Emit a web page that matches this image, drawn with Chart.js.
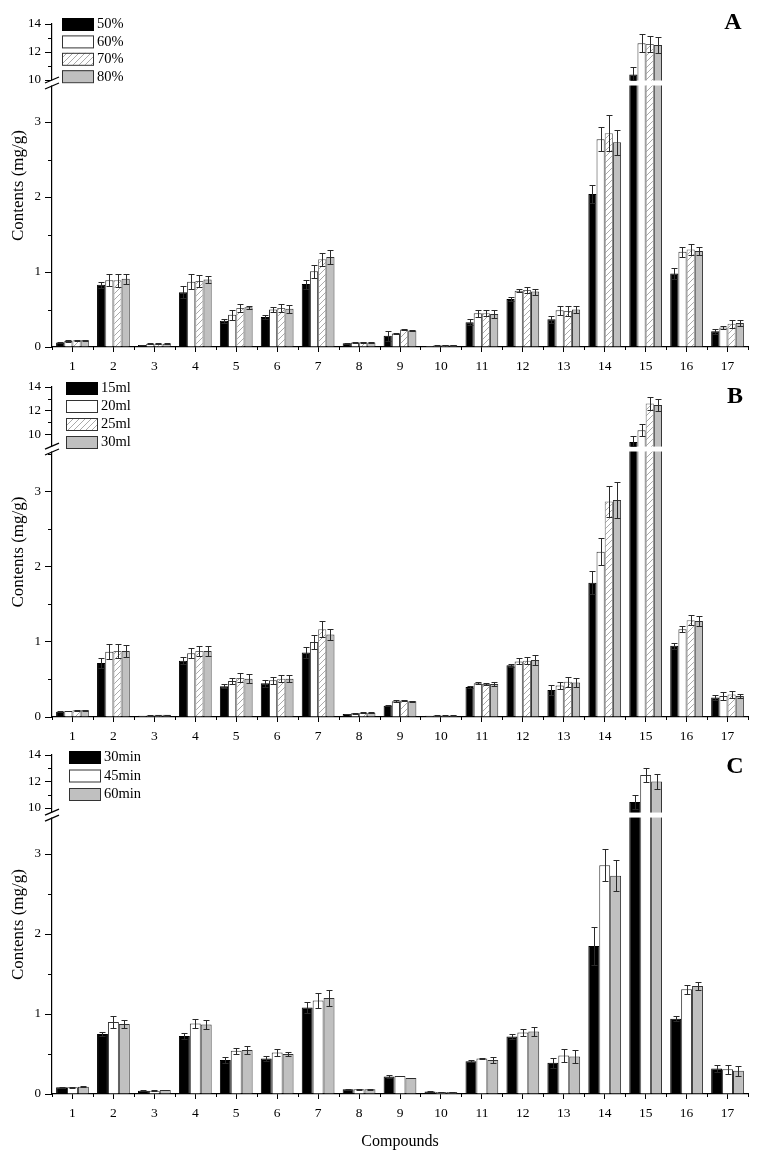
<!DOCTYPE html>
<html><head><meta charset="utf-8">
<script src="https://cdn.jsdelivr.net/npm/chart.js@4.4.0/dist/chart.umd.min.js"></script>
<style>
body{margin:0;background:#fff;}
#wrap{position:relative;width:757px;height:1156px;overflow:hidden;background:#fff;}
.pane{position:absolute;left:0;width:757px;}
</style></head><body>
<div id="wrap">
 <div class="pane" style="top:0px;height:380px"><canvas id="cA"></canvas></div>
 <div class="pane" style="top:360px;height:385px"><canvas id="cB"></canvas></div>
 <div class="pane" style="top:730px;height:426px"><canvas id="cC"></canvas></div>
</div>
<script>
// ---------------- DATA ----------------
const compounds = ['1','2','3','4','5','6','7','8','9','10','11','12','13','14','15','16','17'];
const majorTicks = [0,1,2,3,10,12,14];

// Panel A (ethanol concentration)
const seriesA = ['50%','60%','70%','80%'];
const a50 = [0.06,0.83,0.027,0.73,0.35,0.40,0.84,0.05,0.15,0.015,0.33,0.64,0.37,2.04,10.40,0.98,0.21];
const a50Err = [0.01,0.04,0.005,0.08,0.03,0.03,0.06,0.005,0.07,0.003,0.04,0.03,0.05,0.12,0.50,0.07,0.03];
const a60 = [0.08,0.89,0.045,0.87,0.43,0.50,1.01,0.06,0.18,0.02,0.45,0.75,0.49,2.77,12.62,1.27,0.26];
const a60Err = [0.01,0.08,0.005,0.10,0.07,0.035,0.09,0.005,0.01,0.003,0.045,0.02,0.06,0.16,0.65,0.07,0.025];
const a70 = [0.09,0.89,0.045,0.88,0.52,0.52,1.17,0.065,0.235,0.025,0.45,0.76,0.48,2.85,12.57,1.30,0.31];
const a70Err = [0.005,0.09,0.005,0.08,0.05,0.05,0.09,0.005,0.01,0.003,0.04,0.04,0.065,0.24,0.60,0.07,0.05];
const a80 = [0.09,0.91,0.045,0.90,0.53,0.51,1.20,0.06,0.22,0.025,0.44,0.74,0.50,2.73,12.50,1.28,0.32];
const a80Err = [0.005,0.07,0.005,0.05,0.02,0.05,0.09,0.005,0.01,0.003,0.05,0.04,0.05,0.17,0.60,0.05,0.04];

// Panel B (solvent volume)
const seriesB = ['15ml','20ml','25ml','30ml'];
const b15 = [0.07,0.72,0.015,0.75,0.41,0.45,0.86,0.04,0.15,0.015,0.40,0.69,0.36,1.79,9.35,0.95,0.26];
const b15Err = [0.005,0.07,0.003,0.05,0.03,0.045,0.07,0.005,0.005,0.003,0.015,0.02,0.065,0.15,0.48,0.04,0.03];
const b20 = [0.08,0.87,0.02,0.85,0.48,0.49,1.00,0.05,0.21,0.02,0.45,0.74,0.42,2.20,10.34,1.17,0.28];
const b20Err = [0.005,0.10,0.003,0.07,0.035,0.045,0.09,0.005,0.01,0.003,0.01,0.04,0.05,0.18,0.50,0.04,0.05];
const b25 = [0.09,0.88,0.03,0.88,0.52,0.51,1.17,0.055,0.22,0.02,0.44,0.75,0.47,2.87,12.60,1.29,0.30];
const b25Err = [0.005,0.09,0.003,0.07,0.06,0.05,0.11,0.005,0.01,0.003,0.01,0.05,0.065,0.21,0.57,0.065,0.05];
const b30 = [0.09,0.88,0.03,0.88,0.51,0.51,1.10,0.055,0.21,0.02,0.44,0.76,0.46,2.89,12.47,1.28,0.28];
const b30Err = [0.005,0.08,0.003,0.07,0.06,0.05,0.07,0.005,0.005,0.003,0.025,0.065,0.065,0.24,0.50,0.065,0.03];

// Panel C (extraction time)
const seriesC = ['30min','45min','60min'];
const c30 = [0.085,0.75,0.04,0.725,0.425,0.445,1.08,0.06,0.22,0.03,0.41,0.72,0.39,1.85,10.45,0.94,0.32];
const c30Err = [0.005,0.03,0.005,0.035,0.04,0.03,0.07,0.005,0.02,0.003,0.015,0.03,0.06,0.24,0.50,0.03,0.04];
const c45 = [0.085,0.90,0.04,0.88,0.54,0.52,1.17,0.06,0.225,0.025,0.445,0.77,0.48,2.86,12.50,1.31,0.31];
const c45Err = [0.005,0.08,0.005,0.06,0.04,0.045,0.09,0.005,0.005,0.003,0.01,0.04,0.08,0.20,0.55,0.055,0.055];
const c60 = [0.09,0.875,0.05,0.87,0.55,0.50,1.20,0.06,0.20,0.025,0.425,0.78,0.47,2.73,12.00,1.35,0.29];
const c60Err = [0.005,0.05,0.005,0.06,0.055,0.02,0.10,0.005,0.005,0.003,0.04,0.06,0.08,0.19,0.55,0.05,0.06];

// ---------------- BROKEN SCALE ----------------
class BrokenScale extends Chart.LinearScale {
  determineDataLimits(){ this.min = this.options.min; this.max = this.options.max; }
  buildTicks(){ return majorTicks.map(v => ({value: v})); }
  _dec(value){
    const o = this.options;
    const lowMax = o.lowMax, highMin = o.highMin, lf = o.lowFrac, gf = o.gapFrac;
    const hf = 1 - lf - gf;
    if (value <= lowMax) return (value - this.min) / (lowMax - this.min) * lf;
    if (value >= highMin) return lf + gf + (value - highMin) / (this.max - highMin) * hf;
    return lf + (value - lowMax) / (highMin - lowMax) * gf;
  }
  getPixelForValue(value){
    if (value === null || value === undefined || isNaN(value)) return NaN;
    return this.getPixelForDecimal(this._dec(value));
  }
  getValueForPixel(pixel){
    const d = this.getDecimalForPixel(pixel);
    const o = this.options; const hf = 1 - o.lowFrac - o.gapFrac;
    if (d <= o.lowFrac) return this.min + d / o.lowFrac * (o.lowMax - this.min);
    if (d >= o.lowFrac + o.gapFrac) return o.highMin + (d - o.lowFrac - o.gapFrac) / hf * (this.max - o.highMin);
    return o.lowMax + (d - o.lowFrac) / o.gapFrac * (o.highMin - o.lowMax);
  }
}
BrokenScale.id = 'broken';
BrokenScale.defaults = Chart.LinearScale.defaults;
Chart.register(BrokenScale);

// ---------------- STYLES ----------------
const FONT = '"Liberation Serif", "Times New Roman", serif';
function makeHatch(){
  const c = document.createElement('canvas'); c.width = 6; c.height = 6;
  const x = c.getContext('2d');
  x.fillStyle = '#fff'; x.fillRect(0,0,6,6);
  x.strokeStyle = '#a0a0a0'; x.lineWidth = 0.9;
  x.beginPath();
  x.moveTo(0,6); x.lineTo(6,0);
  x.moveTo(-1,1); x.lineTo(1,-1);
  x.moveTo(5,7); x.lineTo(7,5);
  x.stroke();
  return x.createPattern(c,'repeat');
}
const hatch = makeHatch();
const fills = {
  black: {bg:'#000000', bd:'#000000'},
  white: {bg:'#ffffff', bd:'#333333'},
  hatch: {bg:hatch, bd:'#6a6a6a'},
  gray:  {bg:'#c0c0c0', bd:'#333333'}
};

function extrasPlugin(p){
  return {
    id: 'extras' + p.letter,
    afterDatasetsDraw(chart){
      const ctx = chart.ctx;
      const ys = chart.scales.y;
      const ca = chart.chartArea;
      const yTop = ys.getPixelForValue(p.brk.highMin);
      const yBot = ys.getPixelForValue(p.brk.lowMax);
      ctx.save();
      // gap band
      ctx.fillStyle = '#fff';
      ctx.fillRect(ca.left - 1.5, yTop + 0.5, ca.right - ca.left + 2, yBot - yTop - 1);
      // error bars
      ctx.strokeStyle = '#2a2a2a'; ctx.lineWidth = 1;
      chart.data.datasets.forEach((ds, di) => {
        const meta = chart.getDatasetMeta(di);
        meta.data.forEach((el, i) => {
          const v = ds.data[i], e = p.errs[di][i];
          const x = Math.round(el.x) + 0.5;
          const t = Math.round(ys.getPixelForValue(v + e)) + 0.5;
          const b = Math.round(ys.getPixelForValue(v - e)) + 0.5;
          ctx.beginPath();
          ctx.moveTo(x, t); ctx.lineTo(x, b);
          ctx.moveTo(x - 3, t); ctx.lineTo(x + 3, t);
          ctx.moveTo(x - 3, b); ctx.lineTo(x + 3, b);
          ctx.stroke();
        });
      });
      // break marks
      ctx.strokeStyle = '#000'; ctx.lineWidth = 1.3;
      [yTop, yBot].forEach(yy => {
        ctx.beginPath(); ctx.moveTo(ca.left - 7, yy + 3); ctx.lineTo(ca.left + 7, yy - 3); ctx.stroke();
      });
      // minor y ticks
      ctx.lineWidth = 1;
      p.minor.forEach(v => {
        const yy = Math.round(ys.getPixelForValue(v)) + 0.5;
        ctx.beginPath(); ctx.moveTo(ca.left - 4, yy); ctx.lineTo(ca.left, yy); ctx.stroke();
      });
      // minor x ticks at category boundaries
      const step = (ca.right - ca.left) / compounds.length;
      for (let k = 0; k <= compounds.length; k++) {
        const xx = Math.round(ca.left + k * step) + 0.5;
        ctx.beginPath(); ctx.moveTo(xx, ca.bottom); ctx.lineTo(xx, ca.bottom + 3); ctx.stroke();
      }
      // legend
      ctx.font = '14.5px ' + FONT; ctx.textBaseline = 'middle'; ctx.textAlign = 'left'; ctx.fillStyle = '#000';
      p.names.forEach((n, k) => {
        const f = fills[p.styles[k]];
        const bx = p.legend.x, by = p.legend.y + k * p.legend.pitch;
        ctx.fillStyle = f.bg; ctx.fillRect(bx, by, 31, 12);
        ctx.strokeStyle = f.bd === '#000000' ? '#000' : '#333'; ctx.lineWidth = 1;
        ctx.strokeRect(bx + 0.5, by + 0.5, 31, 12);
        ctx.fillStyle = '#000';
        ctx.fillText(n, bx + 35, by + 6.5);
      });
      // panel letter
      ctx.font = 'bold 24px ' + FONT; ctx.textAlign = 'center';
      ctx.fillText(p.letter, p.letterPos.x, p.letterPos.y);
      ctx.restore();
    }
  };
}

const panels = [
  {id:'cA', letter:'A', names:seriesA, values:[a50,a60,a70,a80], errs:[a50Err,a60Err,a70Err,a80Err],
   styles:['black','white','hatch','gray'],
   brk:{lowMax:3.48, highMin:10, lowFrac:0.808, gapFrac:0.0186},
   minor:[0.5,1.5,2.5,11,13], padTop:24, xH:33, legend:{x:62,y:18,pitch:17.4}, letterPos:{x:733,y:23}, xTitle:false},
  {id:'cB', letter:'B', names:seriesB, values:[b15,b20,b25,b30], errs:[b15Err,b20Err,b25Err,b30Err],
   styles:['black','white','hatch','gray'],
   brk:{lowMax:3.53, highMin:9, lowFrac:0.803, gapFrac:0.018},
   minor:[0.5,1.5,2.5,3.5,11,13], padTop:27, xH:28, legend:{x:66,y:22,pitch:18}, letterPos:{x:735,y:37}, xTitle:false},
  {id:'cC', letter:'C', names:seriesC, values:[c30,c45,c60], errs:[c30Err,c45Err,c60Err],
   styles:['black','white','gray'],
   brk:{lowMax:3.45, highMin:9.7, lowFrac:0.814, gapFrac:0.0177},
   minor:[0.5,1.5,2.5,11,13], padTop:25, xH:62, legend:{x:69,y:21,pitch:18.5}, letterPos:{x:735,y:37}, xTitle:true}
];

panels.forEach(p => {
  const datasets = p.names.map((n, k) => ({
    label: n,
    data: p.values[k],
    backgroundColor: fills[p.styles[k]].bg,
    borderColor: fills[p.styles[k]].bd,
    borderWidth: 1,
    categoryPercentage: 0.8,
    barPercentage: 1.0
  }));
  new Chart(document.getElementById(p.id), {
    type: 'bar',
    data: {labels: compounds, datasets},
    options: {
      responsive: true, maintainAspectRatio: false, animation: false,
      layout: {padding: {top: p.padTop, right: 9, left: 0, bottom: 0}},
      plugins: {legend: {display: false}, tooltip: {enabled: false}},
      scales: {
        x: {
          type: 'category',
          offset: true,
          grid: {display: true, drawOnChartArea: false, drawTicks: true, tickLength: 5, color: '#000', offset: false},
          border: {display: true, color: '#000', width: 1.2},
          ticks: {color: '#000', font: {family: FONT, size: 13.5}, padding: 6, maxRotation: 0, autoSkip: false},
          title: {display: p.xTitle, text: 'Compounds', color: '#000', font: {family: FONT, size: 16}, padding: {top: 0, bottom: 5}},
          afterFit: s => { s.height = p.xH; }
        },
        y: {
          type: 'broken',
          min: 0, max: 14,
          lowMax: p.brk.lowMax, highMin: p.brk.highMin, lowFrac: p.brk.lowFrac, gapFrac: p.brk.gapFrac,
          grid: {display: true, drawOnChartArea: false, drawTicks: true, tickLength: 7, color: '#000'},
          border: {display: true, color: '#000', width: 1.2},
          ticks: {color: '#000', font: {family: FONT, size: 13}, padding: 4, autoSkip: false, callback: v => String(v)},
          title: {display: true, text: 'Contents (mg/g)', color: '#000', font: {family: FONT, size: 17}, padding: {top: 8, bottom: 0}},
          afterFit: s => { s.width = 52; }
        }
      }
    },
    plugins: [extrasPlugin(p)]
  });
});
</script>
</body></html>
